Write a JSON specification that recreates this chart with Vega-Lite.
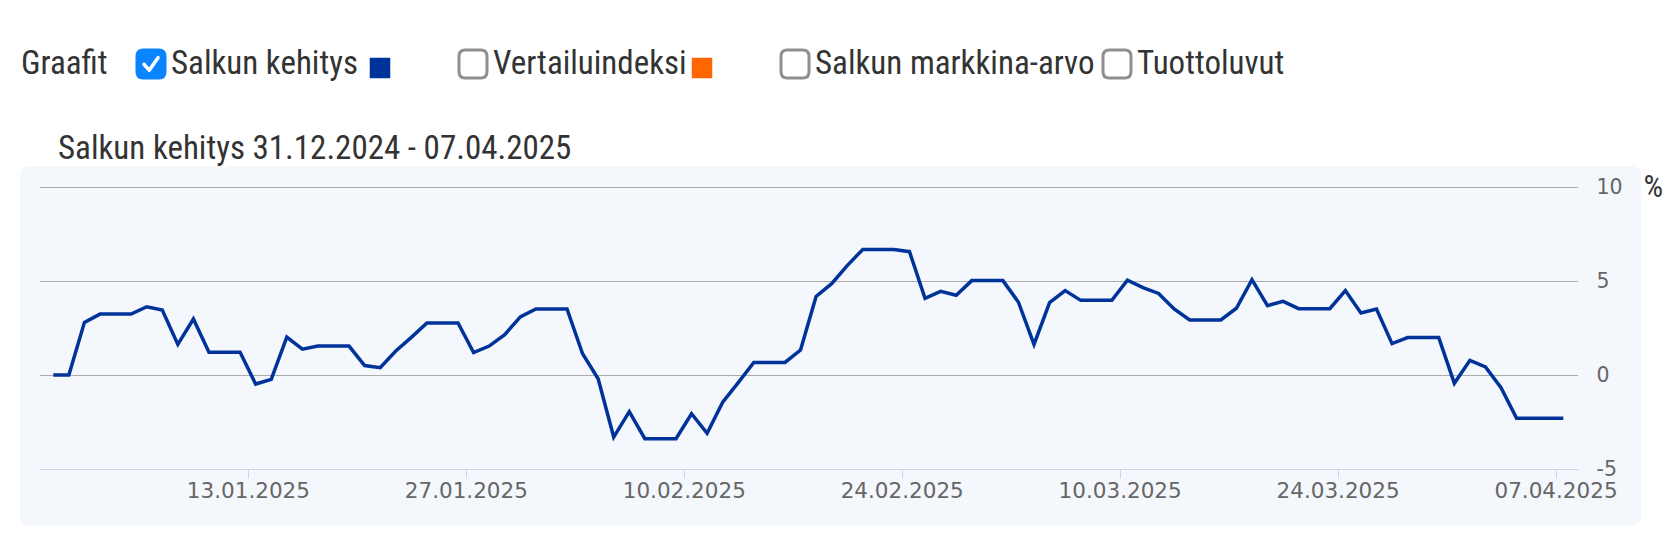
{
  "$schema": "https://vega.github.io/schema/vega-lite/v6.json",
  "padding": {"left": 20, "top": 44, "right": 0, "bottom": 0},
  "background": "#ffffff",
  "spacing": 49,
  "config": {"view": {"stroke": null}},
  "vconcat": [
    {
      "width": 1188,
      "height": 40,
      "data": {"values": [
        {"graf": "Salkun kehitys", "checked": true},
        {"graf": "Vertailuindeksi", "checked": false},
        {"graf": "Salkun markkina-arvo", "checked": false},
        {"graf": "Tuottoluvut", "checked": false}
      ]},
      "encoding": {
        "x": {"field": "graf", "type": "nominal", "sort": null,
              "scale": {"type": "point", "domain": ["Salkun kehitys", "Vertailuindeksi", "Salkun markkina-arvo", "Tuottoluvut"], "padding": 0.3447},
              "axis": null}
      },
      "layer": [
        {
          "transform": [{"filter": "datum.checked"}],
          "mark": {"type": "text", "text": "Graafit", "align": "left", "baseline": "middle", "dx": -130,
                   "font": "Roboto Condensed, Roboto, sans-serif", "fontSize": 33, "color": "#333333"}
        },
        {
          "mark": {"type": "point", "shape": "M-1,-0.55 C-1,-0.85 -0.85,-1 -0.55,-1 L0.55,-1 C0.85,-1 1,-0.85 1,-0.55 L1,0.55 C1,0.85 0.85,1 0.55,1 L-0.55,1 C-0.85,1 -1,0.85 -1,0.55 Z",
                   "size": 784, "filled": true, "strokeWidth": 3, "opacity": 1},
          "encoding": {
            "fill": {"condition": {"test": "datum.checked", "value": "#0a84ff"}, "value": "#ffffff"},
            "stroke": {"condition": {"test": "datum.checked", "value": "#0a84ff"}, "value": "#8e8e93"}
          }
        },
        {
          "transform": [{"filter": "datum.checked"}],
          "mark": {"type": "point", "shape": "M-0.5,0.02 L-0.12,0.45 L0.5,-0.45", "size": 784, "filled": false,
                   "stroke": "#ffffff", "strokeWidth": 3.5, "strokeCap": "round", "strokeJoin": "round", "opacity": 1}
        },
        {
          "mark": {"type": "text", "align": "left", "baseline": "middle", "dx": 20,
                   "font": "Roboto Condensed, Roboto, sans-serif", "fontSize": 33, "color": "#333333"},
          "encoding": {"text": {"field": "graf"}}
        },
        {
          "transform": [{"filter": {"field": "graf", "oneOf": ["Salkun kehitys", "Vertailuindeksi"]}}],
          "mark": {"type": "square", "size": 420, "filled": true, "opacity": 1, "xOffset": 229, "yOffset": 4},
          "encoding": {
            "color": {"field": "graf", "type": "nominal",
                      "scale": {"domain": ["Salkun kehitys", "Vertailuindeksi"], "range": ["#003399", "#ff6600"]},
                      "legend": null}
          }
        }
      ]
    },
    {
      "width": 1538,
      "height": 282,
      "title": {"text": "Salkun kehitys 31.12.2024 - 07.04.2025", "anchor": "start", "frame": "group", "dx": 18,
                "font": "Roboto Condensed, Roboto, sans-serif", "fontSize": 33, "fontWeight": "normal",
                "color": "#333333", "baseline": "alphabetic", "offset": -26},
      "layer": [
        {
          "data": {"values": [{"panel": "Salkun kehitys"}]},
          "mark": {"type": "rect", "fill": "#f4f7fc", "cornerRadius": 9, "clip": false},
          "encoding": {
            "x": {"datum": {"year": 2024, "month": 12, "date": 29, "hours": 8, "minutes": 40}, "type": "temporal",
                  "scale": {"domain": [{"year": 2024, "month": 12, "date": 30, "hours": 15, "minutes": 30}, {"year": 2025, "month": 4, "date": 8, "hours": 10, "minutes": 40}]},
                  "axis": {
                    "values": [
                      {"year": 2025, "month": 1, "date": 13},
                      {"year": 2025, "month": 1, "date": 27},
                      {"year": 2025, "month": 2, "date": 10},
                      {"year": 2025, "month": 2, "date": 24},
                      {"year": 2025, "month": 3, "date": 10},
                      {"year": 2025, "month": 3, "date": 24},
                      {"year": 2025, "month": 4, "date": 7}
                    ],
                    "format": "%d.%m.%Y",
                    "labelFont": "DejaVu Sans", "labelFontSize": 21.5, "labelColor": "#666666",
                    "labelOverlap": false, "labelFlush": false, "labelPadding": 2,
                    "tickColor": "#ccd6eb", "tickSize": 9, "tickWidth": 1,
                    "domainColor": "#ccd6eb", "domainWidth": 1,
                    "grid": false, "title": null, "zindex": 1
                  }},
            "x2": {"datum": {"year": 2025, "month": 4, "date": 12, "hours": 12}},
            "y": {"datum": 11.1, "type": "quantitative", "scale": {"domain": [-5, 10], "nice": false, "zero": false},
                  "axis": {
                    "orient": "right", "values": [-5, 0, 5, 10], "labelExpr": "'' + datum.value",
                    "grid": false, "domain": false, "ticks": false, "labelPadding": 18,
                    "labelFont": "DejaVu Sans", "labelFontSize": 20.5, "labelColor": "#666666", "labelBaseline": "middle",
                    "labelFlush": false, "labelOverlap": false,
                    "title": "%", "titleAngle": 0, "titleAnchor": "end", "titleAlign": "left", "titleBaseline": "middle",
                    "titleFont": "Roboto Condensed, Roboto, sans-serif", "titleFontSize": 31,
                    "titleFontWeight": "normal", "titleColor": "#333333", "titlePadding": 21, "zindex": 1
                  }},
            "y2": {"datum": -8}
          }
        },
        {
          "data": {"values": [{"g": 0}, {"g": 5}, {"g": 10}]},
          "mark": {"type": "rule", "color": "#acacac", "strokeWidth": 1, "yOffset": 0.5},
          "encoding": {
            "y": {"field": "g", "type": "quantitative", "scale": {"domain": [-5, 10], "nice": false, "zero": false},
                  "axis": {
                    "orient": "right", "values": [-5, 0, 5, 10], "labelExpr": "'' + datum.value",
                    "grid": false, "domain": false, "ticks": false, "labelPadding": 18,
                    "labelFont": "DejaVu Sans", "labelFontSize": 20.5, "labelColor": "#666666", "labelBaseline": "middle",
                    "labelFlush": false, "labelOverlap": false,
                    "title": "%", "titleAngle": 0, "titleAnchor": "end", "titleAlign": "left", "titleBaseline": "middle",
                    "titleFont": "Roboto Condensed, Roboto, sans-serif", "titleFontSize": 31,
                    "titleFontWeight": "normal", "titleColor": "#333333", "titlePadding": 21, "zindex": 1
                  }}
          }
        },
        {
          "data": {"values": [
            {"date": "2024-12-31T12:00", "value": 0.0},
            {"date": "2025-01-01T12:00", "value": 0.0},
            {"date": "2025-01-02T12:00", "value": 2.80},
            {"date": "2025-01-03T12:00", "value": 3.24},
            {"date": "2025-01-04T12:00", "value": 3.24},
            {"date": "2025-01-05T12:00", "value": 3.24},
            {"date": "2025-01-06T12:00", "value": 3.63},
            {"date": "2025-01-07T12:00", "value": 3.46},
            {"date": "2025-01-08T12:00", "value": 1.63},
            {"date": "2025-01-09T12:00", "value": 2.98},
            {"date": "2025-01-10T12:00", "value": 1.21},
            {"date": "2025-01-11T12:00", "value": 1.21},
            {"date": "2025-01-12T12:00", "value": 1.21},
            {"date": "2025-01-13T12:00", "value": -0.48},
            {"date": "2025-01-14T12:00", "value": -0.23},
            {"date": "2025-01-15T12:00", "value": 2.02},
            {"date": "2025-01-16T12:00", "value": 1.37},
            {"date": "2025-01-17T12:00", "value": 1.54},
            {"date": "2025-01-18T12:00", "value": 1.54},
            {"date": "2025-01-19T12:00", "value": 1.54},
            {"date": "2025-01-20T12:00", "value": 0.50},
            {"date": "2025-01-21T12:00", "value": 0.39},
            {"date": "2025-01-22T12:00", "value": 1.28},
            {"date": "2025-01-23T12:00", "value": 2.00},
            {"date": "2025-01-24T12:00", "value": 2.77},
            {"date": "2025-01-25T12:00", "value": 2.77},
            {"date": "2025-01-26T12:00", "value": 2.77},
            {"date": "2025-01-27T12:00", "value": 1.19},
            {"date": "2025-01-28T12:00", "value": 1.54},
            {"date": "2025-01-29T12:00", "value": 2.15},
            {"date": "2025-01-30T12:00", "value": 3.09},
            {"date": "2025-01-31T12:00", "value": 3.51},
            {"date": "2025-02-01T12:00", "value": 3.51},
            {"date": "2025-02-02T12:00", "value": 3.51},
            {"date": "2025-02-03T12:00", "value": 1.13},
            {"date": "2025-02-04T12:00", "value": -0.20},
            {"date": "2025-02-05T12:00", "value": -3.30},
            {"date": "2025-02-06T12:00", "value": -1.95},
            {"date": "2025-02-07T12:00", "value": -3.39},
            {"date": "2025-02-08T12:00", "value": -3.39},
            {"date": "2025-02-09T12:00", "value": -3.39},
            {"date": "2025-02-10T12:00", "value": -2.06},
            {"date": "2025-02-11T12:00", "value": -3.10},
            {"date": "2025-02-12T12:00", "value": -1.45},
            {"date": "2025-02-13T12:00", "value": -0.41},
            {"date": "2025-02-14T12:00", "value": 0.67},
            {"date": "2025-02-15T12:00", "value": 0.67},
            {"date": "2025-02-16T12:00", "value": 0.67},
            {"date": "2025-02-17T12:00", "value": 1.33},
            {"date": "2025-02-18T12:00", "value": 4.18},
            {"date": "2025-02-19T12:00", "value": 4.86},
            {"date": "2025-02-20T12:00", "value": 5.82},
            {"date": "2025-02-21T12:00", "value": 6.68},
            {"date": "2025-02-22T12:00", "value": 6.68},
            {"date": "2025-02-23T12:00", "value": 6.68},
            {"date": "2025-02-24T12:00", "value": 6.56},
            {"date": "2025-02-25T12:00", "value": 4.08},
            {"date": "2025-02-26T12:00", "value": 4.45},
            {"date": "2025-02-27T12:00", "value": 4.24},
            {"date": "2025-02-28T12:00", "value": 5.02},
            {"date": "2025-03-01T12:00", "value": 5.02},
            {"date": "2025-03-02T12:00", "value": 5.02},
            {"date": "2025-03-03T12:00", "value": 3.87},
            {"date": "2025-03-04T12:00", "value": 1.63},
            {"date": "2025-03-05T12:00", "value": 3.85},
            {"date": "2025-03-06T12:00", "value": 4.49},
            {"date": "2025-03-07T12:00", "value": 3.97},
            {"date": "2025-03-08T12:00", "value": 3.97},
            {"date": "2025-03-09T12:00", "value": 3.97},
            {"date": "2025-03-10T12:00", "value": 5.04},
            {"date": "2025-03-11T12:00", "value": 4.65},
            {"date": "2025-03-12T12:00", "value": 4.34},
            {"date": "2025-03-13T12:00", "value": 3.51},
            {"date": "2025-03-14T12:00", "value": 2.93},
            {"date": "2025-03-15T12:00", "value": 2.93},
            {"date": "2025-03-16T12:00", "value": 2.93},
            {"date": "2025-03-17T12:00", "value": 3.55},
            {"date": "2025-03-18T12:00", "value": 5.07},
            {"date": "2025-03-19T12:00", "value": 3.69},
            {"date": "2025-03-20T12:00", "value": 3.92},
            {"date": "2025-03-21T12:00", "value": 3.53},
            {"date": "2025-03-22T12:00", "value": 3.53},
            {"date": "2025-03-23T12:00", "value": 3.53},
            {"date": "2025-03-24T12:00", "value": 4.49},
            {"date": "2025-03-25T12:00", "value": 3.30},
            {"date": "2025-03-26T12:00", "value": 3.51},
            {"date": "2025-03-27T12:00", "value": 1.67},
            {"date": "2025-03-28T12:00", "value": 1.99},
            {"date": "2025-03-29T12:00", "value": 1.99},
            {"date": "2025-03-30T12:00", "value": 1.99},
            {"date": "2025-03-31T12:00", "value": -0.44},
            {"date": "2025-04-01T12:00", "value": 0.78},
            {"date": "2025-04-02T12:00", "value": 0.43},
            {"date": "2025-04-03T12:00", "value": -0.67},
            {"date": "2025-04-04T12:00", "value": -2.30},
            {"date": "2025-04-05T12:00", "value": -2.30},
            {"date": "2025-04-06T12:00", "value": -2.30},
            {"date": "2025-04-07T12:00", "value": -2.30}
          ]},
          "mark": {"type": "line", "color": "#003399", "strokeWidth": 3.5, "strokeJoin": "miter"},
          "encoding": {
            "x": {"field": "date", "type": "temporal",
                  "scale": {"domain": [{"year": 2024, "month": 12, "date": 30, "hours": 15, "minutes": 30}, {"year": 2025, "month": 4, "date": 8, "hours": 10, "minutes": 40}]},
                  "axis": {
                    "values": [
                      {"year": 2025, "month": 1, "date": 13},
                      {"year": 2025, "month": 1, "date": 27},
                      {"year": 2025, "month": 2, "date": 10},
                      {"year": 2025, "month": 2, "date": 24},
                      {"year": 2025, "month": 3, "date": 10},
                      {"year": 2025, "month": 3, "date": 24},
                      {"year": 2025, "month": 4, "date": 7}
                    ],
                    "format": "%d.%m.%Y",
                    "labelFont": "DejaVu Sans", "labelFontSize": 21.5, "labelColor": "#666666",
                    "labelOverlap": false, "labelFlush": false, "labelPadding": 2,
                    "tickColor": "#ccd6eb", "tickSize": 9, "tickWidth": 1,
                    "domainColor": "#ccd6eb", "domainWidth": 1,
                    "grid": false, "title": null, "zindex": 1
                  }},
            "y": {"field": "value", "type": "quantitative",
                  "scale": {"domain": [-5, 10], "nice": false, "zero": false},
                  "axis": {
                    "orient": "right", "values": [-5, 0, 5, 10], "labelExpr": "'' + datum.value",
                    "grid": false, "domain": false, "ticks": false, "labelPadding": 18,
                    "labelFont": "DejaVu Sans", "labelFontSize": 20.5, "labelColor": "#666666", "labelBaseline": "middle",
                    "labelFlush": false, "labelOverlap": false,
                    "title": "%", "titleAngle": 0, "titleAnchor": "end", "titleAlign": "left", "titleBaseline": "middle",
                    "titleFont": "Roboto Condensed, Roboto, sans-serif", "titleFontSize": 31,
                    "titleFontWeight": "normal", "titleColor": "#333333", "titlePadding": 21, "zindex": 1
                  }}
          }
        }
      ]
    }
  ]
}
